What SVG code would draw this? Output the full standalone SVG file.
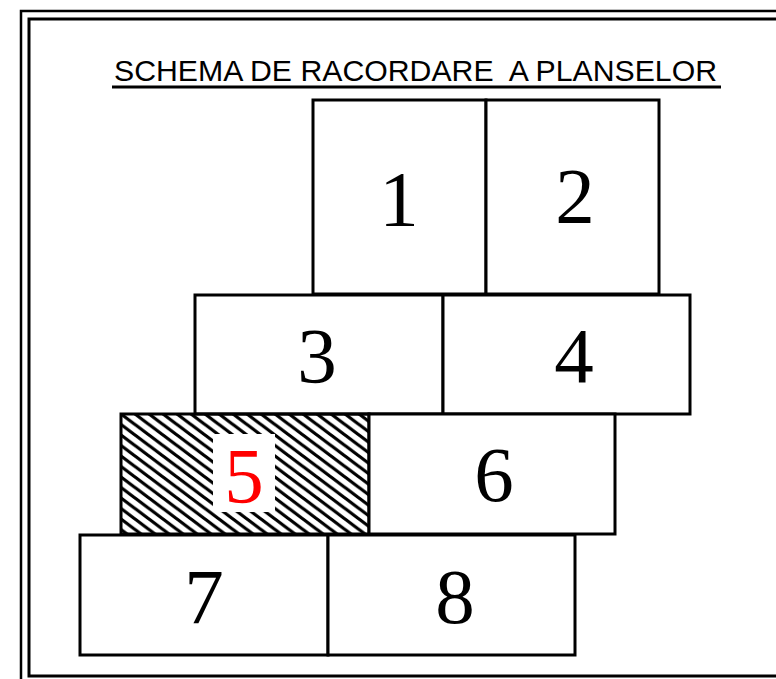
<svg xmlns="http://www.w3.org/2000/svg" width="776" height="679" viewBox="0 0 776 679">
<style>
.box{fill:#fff;stroke:#000;stroke-width:3}
.num{font-family:"Liberation Serif","Times New Roman",serif;font-size:79px;text-anchor:middle;fill:#000}
.title{font-family:"Liberation Sans",Arial,sans-serif;font-size:29px;fill:#000}
.frame{fill:none;stroke:#000}
</style>
<defs>
<pattern id="hatch" patternUnits="userSpaceOnUse" x="121" y="414" width="14" height="10.5">
<path d="M-14,-10.5 L28,21 M0,-10.5 L42,21 M-28,-10.5 L14,21" stroke="#000" stroke-width="3.2" fill="none"/>
</pattern>
</defs>
<rect width="776" height="679" fill="#fff"/>
<g id="frame">
<path class="frame" stroke-width="2.5" d="M21,690 V11 H790"/>
<path class="frame" stroke-width="3" d="M790,19 H29 V676 H790"/>
</g>
<g id="title">
<text class="title" x="114" y="81" textLength="603" lengthAdjust="spacingAndGlyphs" xml:space="preserve">SCHEMA DE RACORDARE  A PLANSELOR</text>
<line x1="112" y1="87" x2="721" y2="87" stroke="#000" stroke-width="3"/>
</g>
<g id="sheet1"><rect class="box" x="313" y="100" width="173" height="194"/><text class="num" x="399" y="225">1</text></g>
<g id="sheet2"><rect class="box" x="486" y="100" width="173" height="194"/><text class="num" x="575" y="222">2</text></g>
<g id="sheet3"><rect class="box" x="195" y="295" width="248" height="119"/><text class="num" x="317" y="382">3</text></g>
<g id="sheet4"><rect class="box" x="443" y="295" width="247" height="119"/><text class="num" x="574" y="382">4</text></g>
<g id="sheet5"><rect x="121" y="414" width="248" height="120" fill="url(#hatch)" stroke="#000" stroke-width="3"/><rect x="213" y="434" width="62" height="78" fill="#fff"/><text class="num" x="244" y="502" fill="#ff0000" style="fill:#ff0000">5</text></g>
<g id="sheet6"><rect class="box" x="369" y="414" width="246" height="120"/><text class="num" x="494" y="501">6</text></g>
<g id="sheet7"><rect class="box" x="80" y="535" width="248" height="120"/><text class="num" x="204" y="623">7</text></g>
<g id="sheet8"><rect class="box" x="328" y="535" width="247" height="120"/><text class="num" x="455" y="623">8</text></g>
</svg>
